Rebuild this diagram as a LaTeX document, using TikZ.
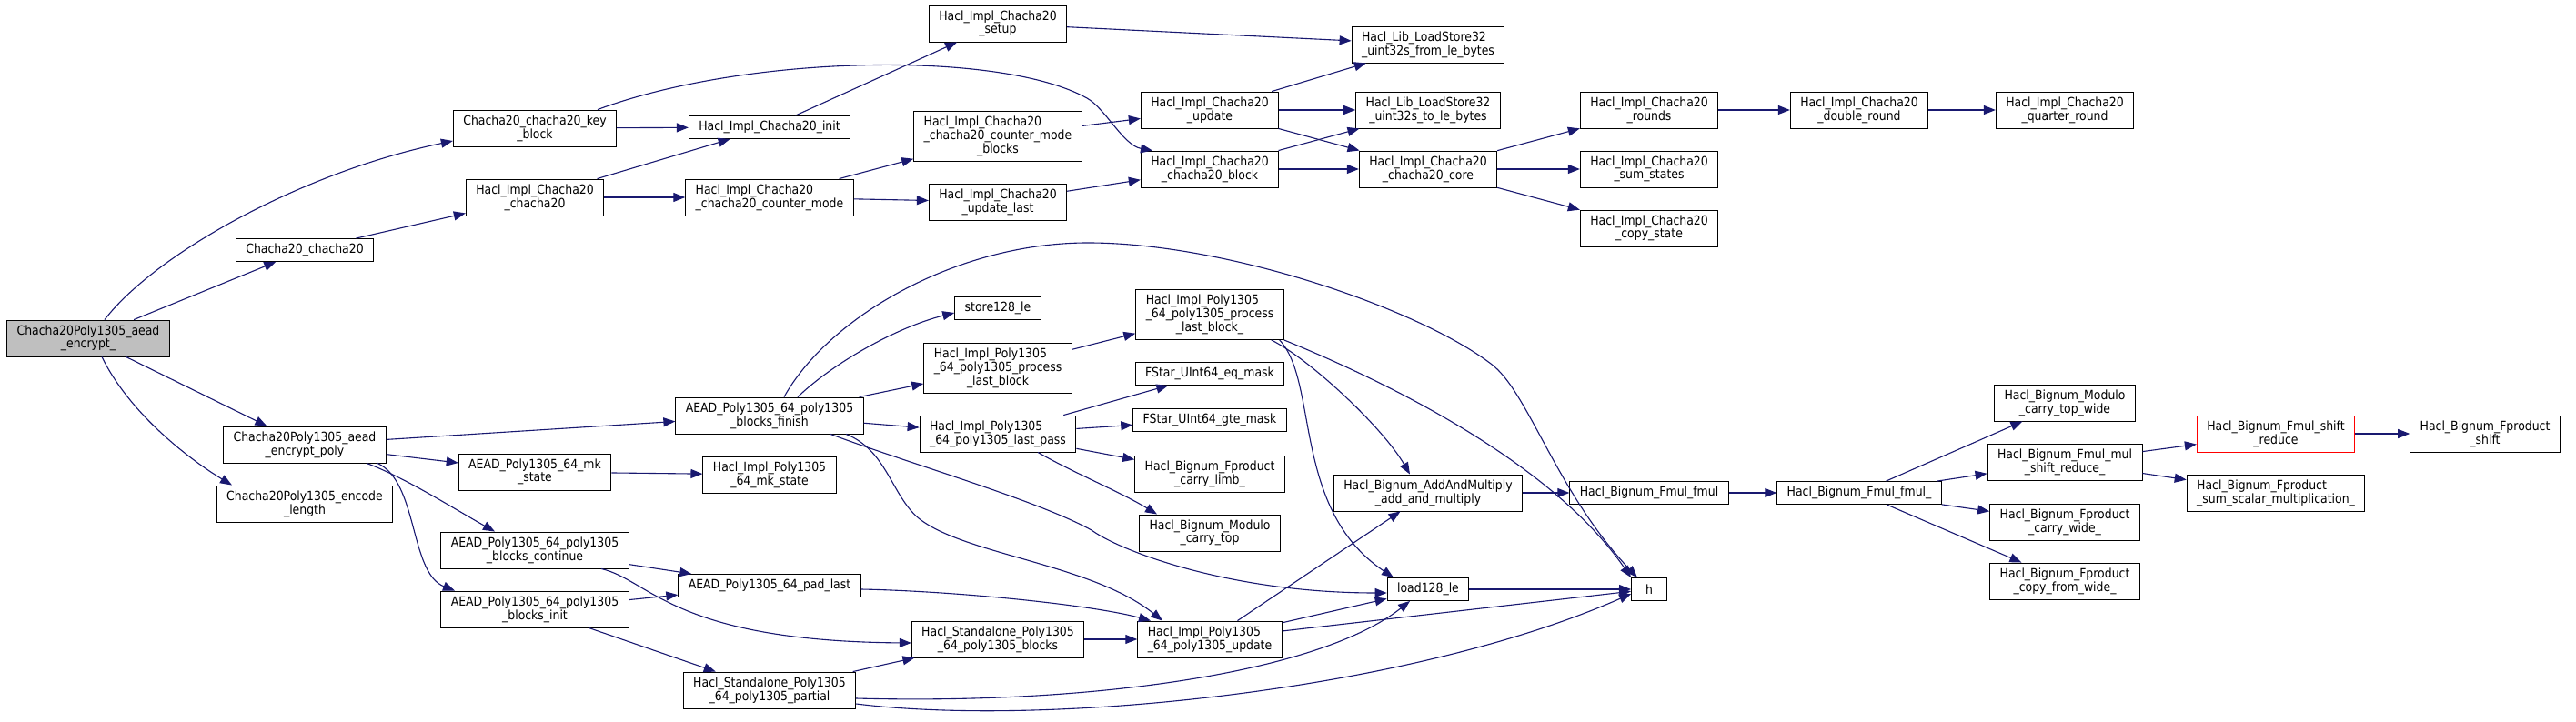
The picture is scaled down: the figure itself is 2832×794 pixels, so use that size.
\documentclass[tikz,border=0pt]{standalone}
\usepackage{fontspec}
\newfontfamily\doxfont[FakeStretch=0.89]{DejaVu Sans}
\usetikzlibrary{arrows.meta}
\definecolor{edgeblue}{HTML}{191970}
\definecolor{rootgray}{HTML}{BFBFBF}
\newlength\lftwd
% first line set flush left to the width of a longer line
\newcommand\lft[2]{\settowidth\lftwd{#1}\makebox[\lftwd][l]{#2}}

\begin{document}
\begin{tikzpicture}[x=1pt, y=-1pt,
        fnbox/.style={draw=black, line width=0.9pt, fill=white, minimum height=25pt, inner xsep=11pt, inner ysep=0pt, align=center, font=\doxfont\fontsize{14}{13.5}\selectfont},
        lines2/.style={minimum height=40pt},
        lines3/.style={minimum height=55pt},
        rootbox/.style={fnbox, lines2, fill=rootgray},
        redbox/.style={fnbox, lines2, draw=red},
        call/.style={-{Triangle[length=13pt,width=10pt]}, draw=edgeblue, line width=1.1pt},
    ]
    \useasboundingbox (0,0) rectangle (2832,794);
    % Column positions
    \def\colA{97}
    \def\colB{335}
    \def\colC{588}
    \def\colD{846}
    \def\colE{1097}
    \def\colF{1330}
    \def\colG{1570}
    \def\colH{1813}
    \def\colI{2044}
    \def\colJ{2270}
    \def\colK{2502}
    \def\colL{2732}

    % === Caller ===
    \node[rootbox] (root) at (\colA, 372) {Chacha20Poly1305\_aead\\\_encrypt\_};

    % === Chacha20 branch ===
    \node[fnbox] (ccha) at (\colB, 275) {Chacha20\_chacha20};
    \node[fnbox, lines2] (keyblk) at (\colC, 141) {Chacha20\_chacha20\_key\\\_block};
    \node[fnbox, lines2] (implcc) at (\colC, 217) {Hacl\_Impl\_Chacha20\\\_chacha20};
    \node[fnbox] (init) at (\colD, 140) {Hacl\_Impl\_Chacha20\_init};
    \node[fnbox, lines2, align=left] (ctrmode) at (\colD, 217) {Hacl\_Impl\_Chacha20\\\_chacha20\_counter\_mode};
    \node[fnbox, lines2] (setup) at (\colE, 26) {Hacl\_Impl\_Chacha20\\\_setup};
    \node[fnbox, lines3] (ctrblk) at (\colE, 150) {\lft{\_chacha20\_counter\_mode}{Hacl\_Impl\_Chacha20}\\\_chacha20\_counter\_mode\\\_blocks};
    \node[fnbox, lines2] (updlast) at (\colE, 222) {Hacl\_Impl\_Chacha20\\\_update\_last};
    \node[fnbox, lines2] (update) at (\colF, 121) {Hacl\_Impl\_Chacha20\\\_update};
    \node[fnbox, lines2] (cblock) at (\colF, 186) {Hacl\_Impl\_Chacha20\\\_chacha20\_block};
    \node[fnbox, lines2, align=left] (fromle) at (\colG, 49) {Hacl\_Lib\_LoadStore32\\\_uint32s\_from\_le\_bytes};
    \node[fnbox, lines2] (tole) at (\colG, 121) {Hacl\_Lib\_LoadStore32\\\_uint32s\_to\_le\_bytes};
    \node[fnbox, lines2] (core) at (\colG, 186) {Hacl\_Impl\_Chacha20\\\_chacha20\_core};
    \node[fnbox, lines2] (rounds) at (\colH, 121) {Hacl\_Impl\_Chacha20\\\_rounds};
    \node[fnbox, lines2] (sumst) at (\colH, 186) {Hacl\_Impl\_Chacha20\\\_sum\_states};
    \node[fnbox, lines2] (copyst) at (\colH, 251) {Hacl\_Impl\_Chacha20\\\_copy\_state};
    \node[fnbox, lines2] (dround) at (\colI, 121) {Hacl\_Impl\_Chacha20\\\_double\_round};
    \node[fnbox, lines2] (qround) at (\colJ, 121) {Hacl\_Impl\_Chacha20\\\_quarter\_round};

    % === Poly1305 branch ===
    \node[fnbox, lines2] (encpoly) at (\colB, 489) {Chacha20Poly1305\_aead\\\_encrypt\_poly};
    \node[fnbox, lines2] (enclen) at (\colB, 554) {Chacha20Poly1305\_encode\\\_length};
    \node[fnbox, lines2] (mkstate) at (\colC, 519) {AEAD\_Poly1305\_64\_mk\\\_state};
    \node[fnbox, lines2] (bcont) at (\colC, 605) {AEAD\_Poly1305\_64\_poly1305\\\_blocks\_continue};
    \node[fnbox, lines2] (binit) at (\colC, 670) {AEAD\_Poly1305\_64\_poly1305\\\_blocks\_init};
    \node[fnbox, lines2] (bfin) at (\colD, 457) {AEAD\_Poly1305\_64\_poly1305\\\_blocks\_finish};
    \node[fnbox, lines2] (pmkst) at (\colD, 522) {Hacl\_Impl\_Poly1305\\\_64\_mk\_state};
    \node[fnbox] (padlast) at (\colD, 644) {AEAD\_Poly1305\_64\_pad\_last};
    \node[fnbox, lines2] (spart) at (\colD, 759) {Hacl\_Standalone\_Poly1305\\\_64\_poly1305\_partial};
    \node[fnbox] (store) at (\colE, 339) {store128\_le};
    \node[fnbox, lines3] (plblk) at (\colE, 405) {\lft{\_64\_poly1305\_process}{Hacl\_Impl\_Poly1305}\\\_64\_poly1305\_process\\\_last\_block};
    \node[fnbox, lines2, align=left] (lastpass) at (\colE, 477) {Hacl\_Impl\_Poly1305\\\_64\_poly1305\_last\_pass};
    \node[fnbox, lines2] (sblocks) at (\colE, 703) {Hacl\_Standalone\_Poly1305\\\_64\_poly1305\_blocks};
    \node[fnbox, lines3] (plblku) at (\colF, 346) {\lft{\_64\_poly1305\_process}{Hacl\_Impl\_Poly1305}\\\_64\_poly1305\_process\\\_last\_block\_};
    \node[fnbox] (eqmask) at (\colF, 411) {FStar\_UInt64\_eq\_mask};
    \node[fnbox] (gtemask) at (\colF, 462) {FStar\_UInt64\_gte\_mask};
    \node[fnbox, lines2] (carrylimb) at (\colF, 521) {Hacl\_Bignum\_Fproduct\\\_carry\_limb\_};
    \node[fnbox, lines2] (ctop) at (\colF, 586) {Hacl\_Bignum\_Modulo\\\_carry\_top};
    \node[fnbox, lines2, align=left] (pupdate) at (\colF, 703) {Hacl\_Impl\_Poly1305\\\_64\_poly1305\_update};
    \node[fnbox, lines2] (addmul) at (\colG, 542) {Hacl\_Bignum\_AddAndMultiply\\\_add\_and\_multiply};
    \node[fnbox] (load) at (\colG, 648) {load128\_le};
    \node[fnbox] (fmul) at (\colH, 542) {Hacl\_Bignum\_Fmul\_fmul};
    \node[fnbox, minimum width=39pt] (h) at (\colH, 648) {h};
    \node[fnbox] (fmulu) at (\colI, 542) {Hacl\_Bignum\_Fmul\_fmul\_};
    \node[fnbox, lines2] (ctopw) at (\colJ, 443) {Hacl\_Bignum\_Modulo\\\_carry\_top\_wide};
    \node[fnbox, lines2] (msred) at (\colJ, 508) {Hacl\_Bignum\_Fmul\_mul\\\_shift\_reduce\_};
    \node[fnbox, lines2] (cwide) at (\colJ, 574) {Hacl\_Bignum\_Fproduct\\\_carry\_wide\_};
    \node[fnbox, lines2] (cpwide) at (\colJ, 639) {Hacl\_Bignum\_Fproduct\\\_copy\_from\_wide\_};
    \node[redbox] (shred) at (\colK, 477) {Hacl\_Bignum\_Fmul\_shift\\\_reduce};
    \node[fnbox, lines2, align=left] (sumsc) at (\colK, 542) {Hacl\_Bignum\_Fproduct\\\_sum\_scalar\_multiplication\_};
    \node[fnbox, lines2] (fshift) at (\colL, 477) {Hacl\_Bignum\_Fproduct\\\_shift};

    % Calls from the caller
    \draw[call] ([xshift=18pt]root.north) .. controls (170,280) and (330,190) .. ([yshift=-14pt]keyblk.west);
    \draw[call] (root) -- (ccha);
    \draw[call] (root) -- (encpoly);
    \draw[call] ([xshift=15pt]root.south) .. controls (140,450) and (200,500) .. ([xshift=-80pt]enclen.north);

    % Chacha20 calls
    \draw[call] (ccha) -- (implcc);
    \draw[call] (keyblk) -- (init);
    \draw[call] ([xshift=69pt]keyblk.north) .. controls (820,60) and (1100,55) .. (1195,108) .. controls (1215,119) and (1235,160) .. ([xshift=-63pt]cblock.north);
    \draw[call] (implcc) -- (init);
    \draw[call] (implcc) -- (ctrmode);
    \draw[call] (init) -- (setup);
    \draw[call] (setup) -- (fromle);
    \draw[call] (ctrmode) -- (ctrblk);
    \draw[call] (ctrmode) -- (updlast);
    \draw[call] (ctrblk) -- (update);
    \draw[call] (updlast) -- (cblock);
    \draw[call] (update) -- (fromle);
    \draw[call] (update) -- (tole);
    \draw[call] (update) -- (core);
    \draw[call] (cblock) -- (tole);
    \draw[call] (cblock) -- (core);
    \draw[call] (core) -- (rounds);
    \draw[call] (core) -- (sumst);
    \draw[call] (core) -- (copyst);
    \draw[call] (rounds) -- (dround);
    \draw[call] (dround) -- (qround);

    % Poly1305 calls
    \draw[call] (encpoly) -- (bfin);
    \draw[call] (encpoly) -- (mkstate);
    \draw[call] ([xshift=68pt]encpoly.south) .. controls (445,525) and (500,560) .. ([xshift=-44pt]bcont.north);
    \draw[call] ([xshift=80pt]encpoly.south) .. controls (460,530) and (450,630) .. ([xshift=-88pt]binit.north);
    \draw[call] (mkstate) -- (pmkst);
    \draw[call] (bcont) -- (padlast);
    \draw[call] ([xshift=73pt]bcont.south) .. controls (715,638) and (740,705) .. ([yshift=-4pt]sblocks.west);
    \draw[call] (binit) -- (padlast);
    \draw[call] (binit) -- (spart);
    \draw[call] ([xshift=16pt]bfin.north) .. controls (910,350) and (1050,267) .. (1196,267) .. controls (1350,267) and (1560,340) .. (1639,400) .. controls (1680,430) and (1710,540) .. ([xshift=-13pt]h.north);
    \draw[call] ([xshift=31pt]bfin.north) .. controls (915,400) and (985,360) .. ([yshift=-5pt]store.west);
    \draw[call] (bfin) -- (plblk);
    \draw[call] (bfin) -- (lastpass);
    \draw[call] ([xshift=67pt]bfin.south) .. controls (1000,510) and (1140,550) .. (1200,583) .. controls (1230,605) and (1350,652) .. ([yshift=-4pt]load.west);
    \draw[call] ([xshift=84pt]bfin.south) .. controls (975,495) and (980,545) .. (1010,570) .. controls (1060,610) and (1200,620) .. ([xshift=-52pt]pupdate.north);
    \draw[call] (plblk) -- (plblku);
    \draw[call] (lastpass) -- (eqmask);
    \draw[call] (lastpass) -- (gtemask);
    \draw[call] (lastpass) -- (carrylimb);
    \draw[call] ([xshift=44pt]lastpass.south) .. controls (1180,520) and (1230,540) .. ([xshift=-58pt]ctop.north);
    \draw[call] ([xshift=-14pt]plblku.south east) .. controls (1440,395) and (1520,470) .. ([xshift=-20pt]addmul.north);
    \draw[call] ([xshift=-5pt]plblku.south east) .. controls (1450,420) and (1420,560) .. ([xshift=-38pt]load.north);
    \draw[call] (plblku.south east) .. controls (1500,410) and (1700,500) .. (h.north west);
    \draw[call] ([yshift=-4pt]padlast.east) .. controls (1050,650) and (1200,665) .. ([xshift=-65pt]pupdate.north);
    \draw[call] (spart) -- (sblocks);
    \draw[call] ([yshift=-9pt]spart.east) .. controls (1200,775) and (1450,740) .. ([xshift=-20pt]load.south);
    \draw[call] ([yshift=-15pt]spart.east) .. controls (1150,800) and (1550,760) .. ([yshift=-5pt]h.west);
    \draw[call] (sblocks) -- (pupdate);
    \draw[call] (pupdate) -- (addmul);
    \draw[call] (pupdate) -- (load);
    \draw[call] (pupdate) -- (h);
    \draw[call] (load) -- (h);

    % Bignum calls
    \draw[call] (addmul) -- (fmul);
    \draw[call] (fmul) -- (fmulu);
    \draw[call] (fmulu) -- (ctopw);
    \draw[call] (fmulu) -- (msred);
    \draw[call] (fmulu) -- (cwide);
    \draw[call] (fmulu) -- (cpwide);
    \draw[call] (msred) -- (shred);
    \draw[call] (msred) -- (sumsc);
    \draw[call] (shred) -- (fshift);
\end{tikzpicture}
\end{document}
